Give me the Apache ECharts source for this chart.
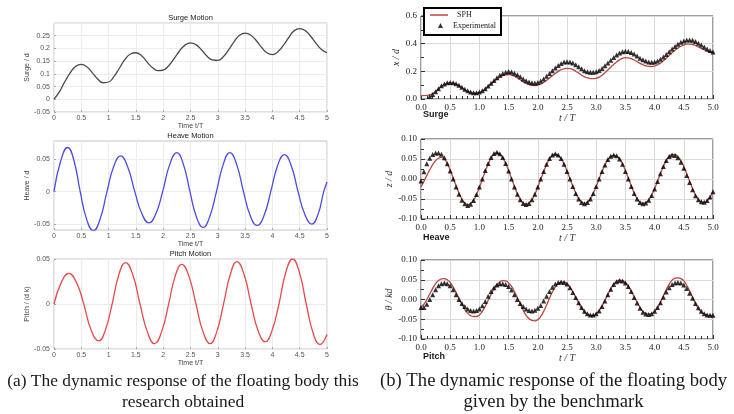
<!DOCTYPE html>
<html>
<head>
    <meta charset="utf-8">
    <script src="https://cdn.jsdelivr.net/npm/echarts@6/dist/echarts.min.js"></script>
</head>
<body style="margin: 0; background: #fff">
    <div id="container" style="width: 734px; height: 414px"></div>
    <script type="text/javascript">
        // (a) this research: surge sampled every 0.1 T, heave / pitch as [t, value] read at peaks, crossings and flanks
        var leftSurge = [
            0, 0.03, 0.07, 0.105, 0.13, 0.137, 0.128, 0.105, 0.08, 0.065,
            0.068, 0.09, 0.123, 0.157, 0.178, 0.183, 0.172, 0.148, 0.125, 0.113,
            0.115, 0.132, 0.16, 0.19, 0.213, 0.222, 0.215, 0.195, 0.17, 0.155,
            0.153, 0.167, 0.195, 0.227, 0.252, 0.26, 0.253, 0.232, 0.205, 0.183,
            0.176, 0.187, 0.212, 0.243, 0.27, 0.278, 0.27, 0.248, 0.22, 0.196,
            0.183
        ];
        var leftHeave = [
            [0, 0], [0.125, 0.048], [0.25, 0.068], [0.365, 0.048], [0.48, 0], [0.6, -0.043], [0.72, -0.06], [0.845, -0.042],
            [0.97, 0], [1.095, 0.039], [1.22, 0.055], [1.35, 0.038], [1.48, 0], [1.61, -0.034], [1.74, -0.048], [1.865, -0.034],
            [1.99, 0], [2.12, 0.042], [2.25, 0.06], [2.37, 0.042], [2.49, 0], [2.61, -0.039], [2.73, -0.055], [2.85, -0.039],
            [2.975, 0], [3.1, 0.042], [3.22, 0.06], [3.345, 0.042], [3.47, 0], [3.595, -0.037], [3.72, -0.052], [3.845, -0.037],
            [3.97, 0], [4.095, 0.04], [4.22, 0.057], [4.345, 0.04], [4.47, 0], [4.595, -0.035], [4.72, -0.05], [4.835, -0.035],
            [4.94, 0], [5, 0.015]
        ];
        var leftPitch = [
            [0, 0], [0.135, 0.024], [0.27, 0.034], [0.41, 0.024], [0.545, 0], [0.68, -0.029], [0.82, -0.041], [0.94, -0.029],
            [1.065, 0], [1.19, 0.033], [1.31, 0.046], [1.44, 0.033], [1.575, 0], [1.71, -0.031], [1.84, -0.044], [1.97, -0.031],
            [2.1, 0], [2.22, 0.031], [2.34, 0.044], [2.47, 0.031], [2.6, 0], [2.73, -0.031], [2.86, -0.044], [2.98, -0.031],
            [3.105, 0], [3.23, 0.033], [3.35, 0.047], [3.48, 0.033], [3.61, 0], [3.74, -0.03], [3.87, -0.042], [3.99, -0.03],
            [4.12, 0], [4.245, 0.035], [4.37, 0.05], [4.495, 0.035], [4.62, 0], [4.745, -0.032], [4.87, -0.045], [5, -0.034]
        ];

        // (b) benchmark, sampled every 0.05 T
        var surgeSph = [
            0.025, 0.025, 0.026, 0.03, 0.04, 0.055, 0.073, 0.09, 0.105, 0.113,
            0.116, 0.114, 0.107, 0.095, 0.081, 0.066, 0.054, 0.046, 0.042, 0.042,
            0.047, 0.057, 0.072, 0.09, 0.108, 0.126, 0.143, 0.157, 0.168, 0.174,
            0.176, 0.173, 0.165, 0.153, 0.139, 0.124, 0.112, 0.103, 0.098, 0.097,
            0.1, 0.108, 0.12, 0.135, 0.152, 0.169, 0.185, 0.2, 0.212, 0.219,
            0.222, 0.22, 0.213, 0.201, 0.187, 0.172, 0.16, 0.152, 0.148, 0.147,
            0.15, 0.158, 0.172, 0.19, 0.21, 0.23, 0.25, 0.268, 0.283, 0.294,
            0.299, 0.298, 0.292, 0.282, 0.27, 0.258, 0.248, 0.24, 0.236, 0.235,
            0.238, 0.246, 0.259, 0.276, 0.295, 0.315, 0.335, 0.353, 0.368, 0.381,
            0.39, 0.396, 0.397, 0.394, 0.387, 0.377, 0.366, 0.356, 0.347, 0.34,
            0.335
        ];
        var surgeExp = [
            null, null, null, 0.018, 0.033, 0.053, 0.075, 0.095, 0.108, 0.117,
            0.12, 0.118, 0.111, 0.099, 0.085, 0.071, 0.059, 0.05, 0.046, 0.045,
            0.05, 0.06, 0.075, 0.094, 0.114, 0.134, 0.154, 0.171, 0.185, 0.194,
            0.198, 0.195, 0.187, 0.175, 0.16, 0.145, 0.132, 0.122, 0.117, 0.116,
            0.12, 0.13, 0.145, 0.165, 0.185, 0.205, 0.225, 0.243, 0.257, 0.267,
            0.27, 0.268, 0.26, 0.248, 0.233, 0.218, 0.205, 0.197, 0.193, 0.193,
            0.197, 0.206, 0.22, 0.24, 0.26, 0.28, 0.3, 0.318, 0.332, 0.342,
            0.345, 0.343, 0.336, 0.325, 0.31, 0.295, 0.283, 0.274, 0.268, 0.266,
            0.268, 0.275, 0.287, 0.303, 0.322, 0.342, 0.362, 0.38, 0.396, 0.41,
            0.42, 0.426, 0.427, 0.424, 0.415, 0.403, 0.39, 0.376, 0.362, 0.35,
            0.34
        ];
        var heaveSph = [
            -0.02, -0.006, 0.009, 0.023, 0.036, 0.046, 0.052, 0.054, 0.05, 0.039,
            0.022, 0.003, -0.017, -0.035, -0.05, -0.06, -0.064, -0.061, -0.053, -0.039,
            -0.021, -0.001, 0.019, 0.037, 0.052, 0.062, 0.065, 0.062, 0.053, 0.039,
            0.021, 0.001, -0.019, -0.037, -0.051, -0.06, -0.063, -0.06, -0.052, -0.038,
            -0.02, -0.001, 0.018, 0.036, 0.05, 0.059, 0.062, 0.059, 0.051, 0.037,
            0.02, 0.001, -0.018, -0.035, -0.049, -0.058, -0.061, -0.058, -0.05, -0.036,
            -0.019, 0, 0.019, 0.035, 0.048, 0.056, 0.059, 0.057, 0.05, 0.038,
            0.021, 0.002, -0.017, -0.035, -0.049, -0.058, -0.061, -0.059, -0.052, -0.04,
            -0.024, -0.006, 0.013, 0.031, 0.046, 0.056, 0.061, 0.061, 0.056, 0.046,
            0.031, 0.013, -0.006, -0.024, -0.04, -0.051, -0.057, -0.058, -0.054, -0.045,
            -0.032
        ];
        var heaveExp = [
            -0.005, 0.018, 0.038, 0.052, 0.061, 0.065, 0.065, 0.062, 0.053, 0.038,
            0.02, 0, -0.02, -0.038, -0.053, -0.062, -0.066, -0.063, -0.054, -0.039,
            -0.02, 0, 0.021, 0.039, 0.054, 0.064, 0.067, 0.063, 0.054, 0.039,
            0.02, 0, -0.02, -0.038, -0.052, -0.061, -0.064, -0.061, -0.052, -0.038,
            -0.02, 0, 0.019, 0.037, 0.051, 0.06, 0.063, 0.06, 0.051, 0.037,
            0.019, 0, -0.019, -0.036, -0.05, -0.059, -0.062, -0.059, -0.05, -0.036,
            -0.019, 0, 0.019, 0.035, 0.049, 0.057, 0.06, 0.058, 0.05, 0.037,
            0.019, 0, -0.019, -0.036, -0.05, -0.059, -0.062, -0.06, -0.053, -0.041,
            -0.025, -0.006, 0.013, 0.031, 0.046, 0.056, 0.06, 0.059, 0.053, 0.042,
            0.027, 0.009, -0.009, -0.027, -0.042, -0.052, -0.057, -0.058, -0.054, -0.045,
            -0.032
        ];
        var pitchSph = [
            -0.02, -0.012, 0, 0.014, 0.028, 0.04, 0.048, 0.052, 0.053, 0.05,
            0.043, 0.032, 0.018, 0.003, -0.012, -0.025, -0.035, -0.041, -0.043, -0.043,
            -0.039, -0.03, -0.017, -0.002, 0.013, 0.027, 0.038, 0.045, 0.048, 0.047,
            0.042, 0.033, 0.02, 0.005, -0.011, -0.027, -0.04, -0.049, -0.053, -0.054,
            -0.051, -0.043, -0.03, -0.014, 0.003, 0.019, 0.032, 0.04, 0.044, 0.044,
            0.04, 0.031, 0.019, 0.005, -0.009, -0.022, -0.032, -0.038, -0.04, -0.04,
            -0.036, -0.028, -0.016, -0.002, 0.013, 0.027, 0.039, 0.046, 0.049, 0.048,
            0.043, 0.034, 0.021, 0.007, -0.007, -0.02, -0.03, -0.035, -0.037, -0.036,
            -0.031, -0.021, -0.007, 0.009, 0.025, 0.039, 0.049, 0.054, 0.055, 0.053,
            0.047, 0.036, 0.022, 0.006, -0.01, -0.023, -0.032, -0.037, -0.039, -0.04,
            -0.04
        ];
        var pitchExp = [
            -0.02, -0.02, -0.012, 0, 0.012, 0.025, 0.035, 0.04, 0.042, 0.04,
            0.035, 0.025, 0.012, 0, -0.01, -0.018, -0.024, -0.028, -0.029, -0.028,
            -0.024, -0.016, -0.005, 0.008, 0.02, 0.03, 0.037, 0.04, 0.04, 0.038,
            0.033, 0.024, 0.012, 0, -0.01, -0.018, -0.024, -0.028, -0.029, -0.027,
            -0.022, -0.015, -0.004, 0.008, 0.02, 0.031, 0.039, 0.043, 0.044, 0.043,
            0.039, 0.03, 0.018, 0.005, -0.008, -0.02, -0.03, -0.036, -0.039, -0.039,
            -0.036, -0.029, -0.018, -0.004, 0.012, 0.026, 0.038, 0.045, 0.048, 0.047,
            0.042, 0.033, 0.02, 0.005, -0.009, -0.022, -0.032, -0.037, -0.038, -0.036,
            -0.03, -0.02, -0.008, 0.006, 0.019, 0.03, 0.038, 0.042, 0.043, 0.042,
            0.037, 0.028, 0.016, 0.003, -0.01, -0.021, -0.03, -0.036, -0.039, -0.04,
            -0.04
        ];

        var captionA = ['(a) The dynamic response of the floating body this', 'research obtained'];
        var captionB = ['(b) The dynamic response of the floating body', 'given by the benchmark'];

        function withTime(values, step) {
            return values.map(function (v, i) { return [Math.round(i * step * 100) / 100, v]; });
        }

        var sans = 'Liberation Sans';
        var serif = 'Liberation Serif';

        var grids = [
            { left: 54, top: 23, width: 273, height: 89 },
            { left: 54, top: 141, width: 273, height: 89 },
            { left: 54, top: 259, width: 273, height: 90 },
            { left: 421, top: 16, width: 292, height: 83 },
            { left: 421, top: 139, width: 292, height: 80 },
            { left: 421, top: 260, width: 292, height: 79 }
        ].map(function (g, i) {
            g.show = true;
            g.borderWidth = 1;
            g.borderColor = i < 3 ? '#c4c4c4' : '#3a3a3a';
            return g;
        });

        function leftX(gi, gap) {
            return {
                gridIndex: gi, type: 'value', min: 0, max: 5, interval: 0.5,
                name: 'Time t/T', nameLocation: 'middle', nameGap: gap,
                nameTextStyle: { fontSize: 7, color: '#444', fontFamily: sans },
                axisLine: { show: false, onZero: false },
                axisTick: { inside: true, length: 2, lineStyle: { color: '#aaa' } },
                axisLabel: { fontSize: 7, color: '#555', margin: 3, fontFamily: sans },
                splitLine: { lineStyle: { color: '#ececec' } }
            };
        }
        function leftY(gi, name, extra) {
            var y = {
                gridIndex: gi, type: 'value',
                name: name, nameLocation: 'middle', nameGap: 18,
                nameTextStyle: { fontSize: 7, color: '#444', fontFamily: sans },
                axisLine: { show: false },
                axisTick: { inside: true, length: 2, lineStyle: { color: '#aaa' } },
                axisLabel: { fontSize: 7, color: '#555', margin: 4, fontFamily: sans },
                splitLine: { lineStyle: { color: '#ececec' } }
            };
            for (var k in extra) {
                if (typeof extra[k] === 'object' && y[k]) Object.assign(y[k], extra[k]);
                else y[k] = extra[k];
            }
            return y;
        }
        function rightX(gi) {
            return {
                gridIndex: gi, type: 'value', min: 0, max: 5, interval: 0.5,
                name: 't / T', nameLocation: 'middle', nameGap: 13,
                nameTextStyle: { fontSize: 10, color: '#333', fontFamily: serif, fontStyle: 'italic' },
                axisLine: { show: false, onZero: false },
                axisTick: { inside: true, length: 4, lineStyle: { color: '#333' } },
                minorTick: { show: true, splitNumber: 5, length: 3, lineStyle: { color: '#333' } },
                axisLabel: { fontSize: 9, color: '#222', margin: 4, fontFamily: serif,
                    formatter: function (v) { return v.toFixed(1); } },
                splitLine: { lineStyle: { color: '#d9d9d9' } }
            };
        }
        function rightY(gi, name, min, max, interval, digits, gap) {
            return {
                gridIndex: gi, type: 'value', min: min, max: max, interval: interval,
                name: name, nameLocation: 'middle', nameGap: gap,
                nameTextStyle: { fontSize: 10, color: '#333', fontFamily: serif, fontStyle: 'italic' },
                axisLine: { show: false, onZero: false },
                axisTick: { inside: true, length: 4, lineStyle: { color: '#333' } },
                minorTick: { show: true, splitNumber: 2, length: 3, lineStyle: { color: '#333' } },
                axisLabel: { fontSize: 9, color: '#222', margin: 4, fontFamily: serif,
                    formatter: function (v) { return v.toFixed(digits); } },
                splitLine: { lineStyle: { color: '#d9d9d9' } }
            };
        }

        function curve(name, gi, data, color) {
            return {
                name: name, type: 'line', xAxisIndex: gi, yAxisIndex: gi,
                data: data, smooth: true, symbol: 'none', silent: true,
                lineStyle: { color: color, width: 1.3 }, itemStyle: { color: color }
            };
        }
        function markers(gi, data) {
            return {
                name: 'Experimental', type: 'scatter', xAxisIndex: gi, yAxisIndex: gi,
                data: data, symbol: 'triangle', symbolSize: 5, silent: true,
                itemStyle: { color: '#000' }, z: 3
            };
        }

        function label(x, y, text, font, align) {
            return {
                type: 'text', x: x, y: y, silent: true,
                style: { text: text, font: font, fill: '#1a1a1a', align: align || 'center', verticalAlign: 'middle' }
            };
        }

        var sphColor = '#b9473f';
        var legendText = { fontSize: 8, fontFamily: serif, color: '#222' };
        var option = {
            backgroundColor: '#fff',
            animation: false,
            grid: grids,
            xAxis: [leftX(0, 10), leftX(1, 10), leftX(2, 8), rightX(3), rightX(4), rightX(5)],
            yAxis: [
                leftY(0, 'Surge / d', { min: -0.05, max: 0.3, interval: 0.05, axisLabel: { showMaxLabel: false } }),
                leftY(1, 'Heave / d', { min: -0.059, max: 0.078,
                    axisLabel: { customValues: [-0.05, 0, 0.05] }, axisTick: { customValues: [-0.05, 0, 0.05] } }),
                leftY(2, 'Pitch / (d k)', { min: -0.05, max: 0.05, interval: 0.05 }),
                rightY(3, 'x / d', 0, 0.6, 0.2, 1, 18),
                rightY(4, 'z / d', -0.1, 0.1, 0.05, 2, 24),
                rightY(5, 'θ / kd', -0.1, 0.1, 0.05, 2, 24)
            ],
            legend: [{
                data: [{ name: 'SPH', icon: 'rect' }],
                left: 430, top: 11, padding: 0, selectedMode: false,
                itemWidth: 18, itemHeight: 1.5,
                textStyle: Object.assign({ padding: [0, 0, 0, 4] }, legendText)
            }, {
                data: [{ name: 'Experimental', icon: 'triangle' }],
                left: 438, top: 21.5, padding: 0, selectedMode: false,
                itemWidth: 5, itemHeight: 5,
                textStyle: Object.assign({ padding: [0, 0, 0, 5] }, legendText)
            }],
            series: [
                curve('left surge', 0, withTime(leftSurge, 0.1), '#4a4a4a'),
                curve('left heave', 1, leftHeave, '#4b4be6'),
                curve('left pitch', 2, leftPitch, '#e84a4d'),
                curve('SPH', 3, withTime(surgeSph, 0.05), sphColor),
                markers(3, withTime(surgeExp, 0.05)),
                curve('SPH', 4, withTime(heaveSph, 0.05), sphColor),
                markers(4, withTime(heaveExp, 0.05)),
                curve('SPH', 5, withTime(pitchSph, 0.05), sphColor),
                markers(5, withTime(pitchExp, 0.05))
            ],
            graphic: [
                {
                    type: 'rect', z: 3, silent: true,
                    shape: { x: 424, y: 8, width: 77, height: 27 },
                    style: { fill: '#fff', stroke: '#000', lineWidth: 2 }
                },
                label(190.5, 18, 'Surge Motion', '7.5px "Liberation Sans"'),
                label(190.5, 136, 'Heave Motion', '7.5px "Liberation Sans"'),
                label(190.5, 254, 'Pitch Motion', '7.5px "Liberation Sans"'),
                label(423, 115, 'Surge', 'bold 9px "Liberation Sans"', 'left'),
                label(423, 238, 'Heave', 'bold 9px "Liberation Sans"', 'left'),
                label(423, 357, 'Pitch', 'bold 9px "Liberation Sans"', 'left'),
                label(183, 381, captionA[0], '17.4px "Liberation Serif"'),
                label(183, 402, captionA[1], '17.4px "Liberation Serif"'),
                label(553.5, 381, captionB[0], '18.7px "Liberation Serif"'),
                label(553.5, 402, captionB[1], '18.7px "Liberation Serif"')
            ]
        };

        var myChart = echarts.init(document.getElementById('container'));
        myChart.setOption(option);
    </script>
</body>
</html>
